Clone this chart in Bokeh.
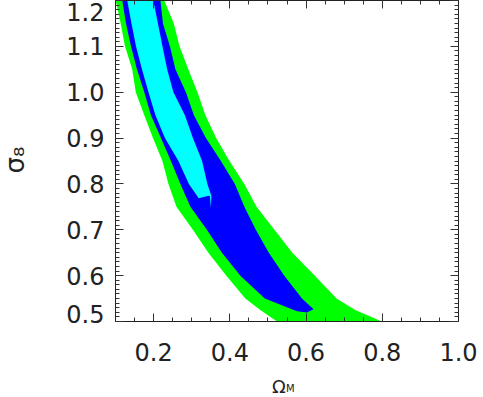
import numpy as np
from bokeh.plotting import figure
from bokeh.models import Range1d, LinearAxis, FixedTicker, Label, PrintfTickFormatter
from bokeh.embed import file_html
from bokeh.resources import INLINE

# ---- data (Omega_M, sigma_8) ----
# outer (green) region: left edge from top to bottom, right edge from bottom to top
green_left_om = [0.094, 0.1005, 0.1136, 0.1249, 0.1438, 0.1532, 0.1755, 0.1983, 0.2232, 0.2389,
                 0.2599, 0.3031, 0.3437, 0.3909, 0.4407, 0.480, 0.524, 0.56]
green_left_s8 = [1.23, 1.20, 1.15, 1.10, 1.05, 1.00, 0.95, 0.90, 0.85, 0.80,
                 0.75, 0.70, 0.65, 0.60, 0.55, 0.525, 0.50, 0.48]
green_right_om = [0.84, 0.799, 0.729, 0.680, 0.623, 0.564, 0.517, 0.470, 0.438, 0.399,
                  0.364, 0.336, 0.315, 0.291, 0.268, 0.253, 0.228, 0.22]
green_right_s8 = [0.48, 0.50, 0.525, 0.55, 0.60, 0.65, 0.70, 0.75, 0.80, 0.85,
                  0.90, 0.95, 1.00, 1.05, 1.10, 1.15, 1.20, 1.23]

# middle (blue) region
blue_left_om = [0.112, 0.1178, 0.1275, 0.1406, 0.1563, 0.1755, 0.1930, 0.2192, 0.2454, 0.2703,
                0.2965, 0.3398, 0.3791, 0.4276, 0.4918, 0.5761, 0.6024, 0.6197]
blue_left_s8 = [1.23, 1.20, 1.15, 1.10, 1.05, 1.00, 0.95, 0.90, 0.85, 0.80,
                0.75, 0.70, 0.65, 0.60, 0.55, 0.5225, 0.5197, 0.5269]
blue_right_om = [0.5893, 0.5429, 0.5023, 0.4682, 0.4381, 0.4132, 0.3765, 0.3372, 0.3057, 0.2847,
                 0.2572, 0.2428, 0.2245, 0.2179, 0.214]
blue_right_s8 = [0.55, 0.60, 0.65, 0.70, 0.75, 0.80, 0.85, 0.90, 0.95, 1.00,
                 1.05, 1.10, 1.15, 1.20, 1.23]

# inner (cyan) region
cyan_left_om = [0.124, 0.1307, 0.1419, 0.1537, 0.1694, 0.1865, 0.2048, 0.2297, 0.2651, 0.2926,
                0.3183, 0.3445, 0.3476, 0.3503, 0.3516]
cyan_left_s8 = [1.23, 1.20, 1.15, 1.10, 1.05, 1.00, 0.95, 0.90, 0.85, 0.80,
                0.7685, 0.7742, 0.7735, 0.7473, 0.7735]
cyan_right_om = [0.3411, 0.3272, 0.3031, 0.2821, 0.2520, 0.2355, 0.2232, 0.2114, 0.1991, 0.193]
cyan_right_s8 = [0.80, 0.85, 0.90, 0.95, 1.00, 1.05, 1.10, 1.15, 1.20, 1.23]

x_major = [0.2, 0.4, 0.6, 0.8, 1.0]
y_major = [0.5, 0.6, 0.7, 0.8, 0.9, 1.0, 1.1, 1.2]
# the end labels 0.5 and 1.2 sit slightly inside the frame in the reference (pixels)
end_label_shift_px = {0.5: 7, 1.2: -11}

FONT = "DejaVu Sans"
TXT = "#222222"
TICK = "#333333"
PX_PER_UNIT_Y = 457.0

p = figure(width=482, height=396, x_range=Range1d(0.1, 1.0), y_range=Range1d(0.5, 1.2),
           output_backend="svg", toolbar_location=None,
           min_border_left=115, min_border_right=24, min_border_top=0, min_border_bottom=75)
p.grid.visible = False
p.outline_line_color = None
p.background_fill_color = "white"
p.border_fill_color = "white"

p.patch(green_left_om + green_right_om, green_left_s8 + green_right_s8,
        fill_color="#00ff00", line_color=None)
p.patch(blue_left_om + blue_right_om, blue_left_s8 + blue_right_s8,
        fill_color="#0000ff", line_color=None)
p.patch(cyan_left_om + cyan_right_om, cyan_left_s8 + cyan_right_s8,
        fill_color="#00ffff", line_color=None)

x_minor = list(np.round(np.arange(0.1, 1.0001, 0.05), 3))
y_minor = list(np.round(np.arange(0.5, 1.2001, 0.01), 3))


def style(ax, labels=True, standoff=13):
    ax.axis_line_color = "#222222"
    ax.axis_line_width = 1
    ax.major_tick_line_color = TICK
    ax.minor_tick_line_color = TICK
    ax.major_tick_in = 8
    ax.major_tick_out = 0
    ax.minor_tick_in = 4
    ax.minor_tick_out = 0
    ax.formatter = PrintfTickFormatter(format="%.1f")
    if labels:
        ax.major_label_text_font = FONT
        ax.major_label_text_font_size = "24px"
        ax.major_label_text_color = TXT
        ax.major_label_standoff = standoff
    else:
        ax.major_label_text_font_size = "1px"
        ax.major_label_text_color = None
        ax.major_label_standoff = 0


# bottom axis: ticks + labels
p.xaxis.ticker = FixedTicker(ticks=x_major, minor_ticks=x_minor)
style(p.xaxis[0], standoff=21)

# left axis: ticks only
p.yaxis.ticker = FixedTicker(ticks=y_major, minor_ticks=y_minor)
style(p.yaxis[0], labels=False)

# second left axis: only the tick labels (end labels nudged inside like the reference)
label_pos = [v + end_label_shift_px.get(v, 0) / PX_PER_UNIT_Y for v in y_major]
ylab = LinearAxis(ticker=FixedTicker(ticks=label_pos, minor_ticks=[]))
style(ylab, standoff=11)
ylab.axis_line_color = None
ylab.major_tick_line_color = None
ylab.minor_tick_line_color = None
ylab.major_tick_in = 0
ylab.minor_tick_in = 0
p.add_layout(ylab, "left")

top = LinearAxis(ticker=FixedTicker(ticks=x_major, minor_ticks=x_minor))
right = LinearAxis(ticker=FixedTicker(ticks=y_major, minor_ticks=y_minor))
style(top, labels=False)
style(right, labels=False)
p.add_layout(top, "above")
p.add_layout(right, "right")


def lab(text, x, y, dx, dy, size, align="left", baseline="alphabetic", angle=0.0):
    return Label(x=x, y=y, x_offset=dx, y_offset=dy, text=text, angle=angle,
                 text_align=align, text_baseline=baseline, text_font=FONT,
                 text_font_size=size, text_color=TXT)


# axis titles (in side panels so they are not clipped to the frame)
p.add_layout(lab("σ₈", 0.1, 0.85, -101, 1, "26px", align="center", angle=np.pi / 2), "left")
p.add_layout(lab("Ω", 0.55, 0.5, -15, -65, "18px"), "below")
p.add_layout(lab("M", 0.55, 0.5, -1, -67, "10px"), "below")

open("out.html", "w").write(file_html(p, INLINE))
